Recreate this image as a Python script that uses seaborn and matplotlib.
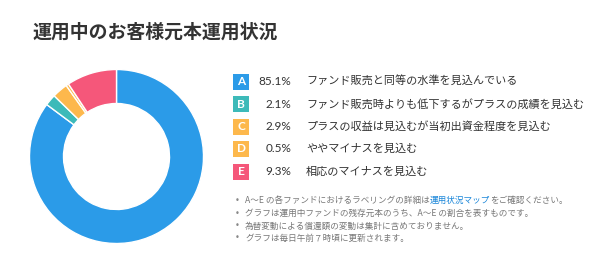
import matplotlib
matplotlib.use("Agg")
import matplotlib.pyplot as plt
import seaborn as sns

sns.set_theme(style="white")
plt.rcParams['font.family'] = ['Noto Sans CJK JP', 'DejaVu Sans']

# ---- data ----
title = "運用中のお客様元本運用状況"
letters = ["A", "B", "C", "D", "E"]
values = [85.1, 2.1, 2.9, 0.5, 9.3]
descriptions = [
    "ファンド販売と同等の水準を見込んでいる",
    "ファンド販売時よりも低下するがプラスの成績を見込む",
    "プラスの収益は見込むが当初出資金程度を見込む",
    "ややマイナスを見込む",
    "相応のマイナスを見込む",
]
colors = ["#2b9be8", "#3dbab9", "#fdb84c", "#fdb84c", "#f5577a"]
notes = [
    [("A～E の各ファンドにおけるラベリングの詳細は", "#777777"), ("運用状況マップ", "#1a86d9"), ("をご確認ください。", "#777777")],
    [("グラフは運用中ファンドの残存元本のうち、A～E の割合を表すものです。", "#777777")],
    [("為替変動による償還額の変動は集計に含めておりません。", "#777777")],
    [("グラフは毎日午前７時頃に更新されます。", "#777777")],
]

W, H = 600, 265
fig = plt.figure(figsize=(W / 100, H / 100), dpi=100)
fig.patch.set_facecolor("white")

def fx(px):
    return px / W

def fy(py):
    return 1 - py / H

# title
fig.text(fx(33), fy(32), title, fontsize=13.6, fontweight="bold", color="#333333",
         va="center", ha="left")

# donut
cx, cy, r_out, r_in = 116.5, 156.5, 87, 53
ax = fig.add_axes([fx(cx - r_out), fy(cy + r_out), 2 * r_out / W, 2 * r_out / H])
ax.pie(values, colors=colors, startangle=90, counterclock=False, radius=1,
       wedgeprops=dict(width=(r_out - r_in) / r_out, edgecolor="white", linewidth=1))
ax.set_xlim(-1, 1)
ax.set_ylim(-1, 1)
ax.set_aspect("auto")
ax.axis("off")

# legend rows
row_y = [81.5, 104, 126.5, 149, 171.5]
for letter, val, desc, col, y in zip(letters, values, descriptions, colors, row_y):
    bw, bh = 16, 16
    rect = plt.Rectangle((fx(233), fy(y + bh / 2)), bw / W, bh / H, transform=fig.transFigure,
                         facecolor=col, edgecolor="none")
    fig.add_artist(rect)
    fig.text(fx(241), fy(y), letter, color="white", fontsize=8.5, ha="center", va="center",
             fontweight="bold", family=["Lato", "DejaVu Sans"])
    fig.text(fx(291), fy(y), f"{val:.1f}%", color="#333333", fontsize=8.5, ha="right", va="center",
             family=["Lato", "DejaVu Sans"])
    fig.text(fx(306), fy(y), desc, color="#333333", fontsize=8, ha="left", va="center")

# notes
renderer = fig.canvas.get_renderer()
note_y = [200.5, 213.5, 226, 238]
for parts, y in zip(notes, note_y):
    fig.text(fx(237), fy(y), "•", color="#888888", fontsize=6, ha="center", va="center",
             family=["DejaVu Sans"])
    x = 245
    for txt, col in parts:
        t = fig.text(fx(x), fy(y), txt, color=col, fontsize=6.2, ha="left", va="center")
        bb = t.get_window_extent(renderer=renderer)
        x += bb.width

fig.savefig("out.png", dpi=100, facecolor="white")
